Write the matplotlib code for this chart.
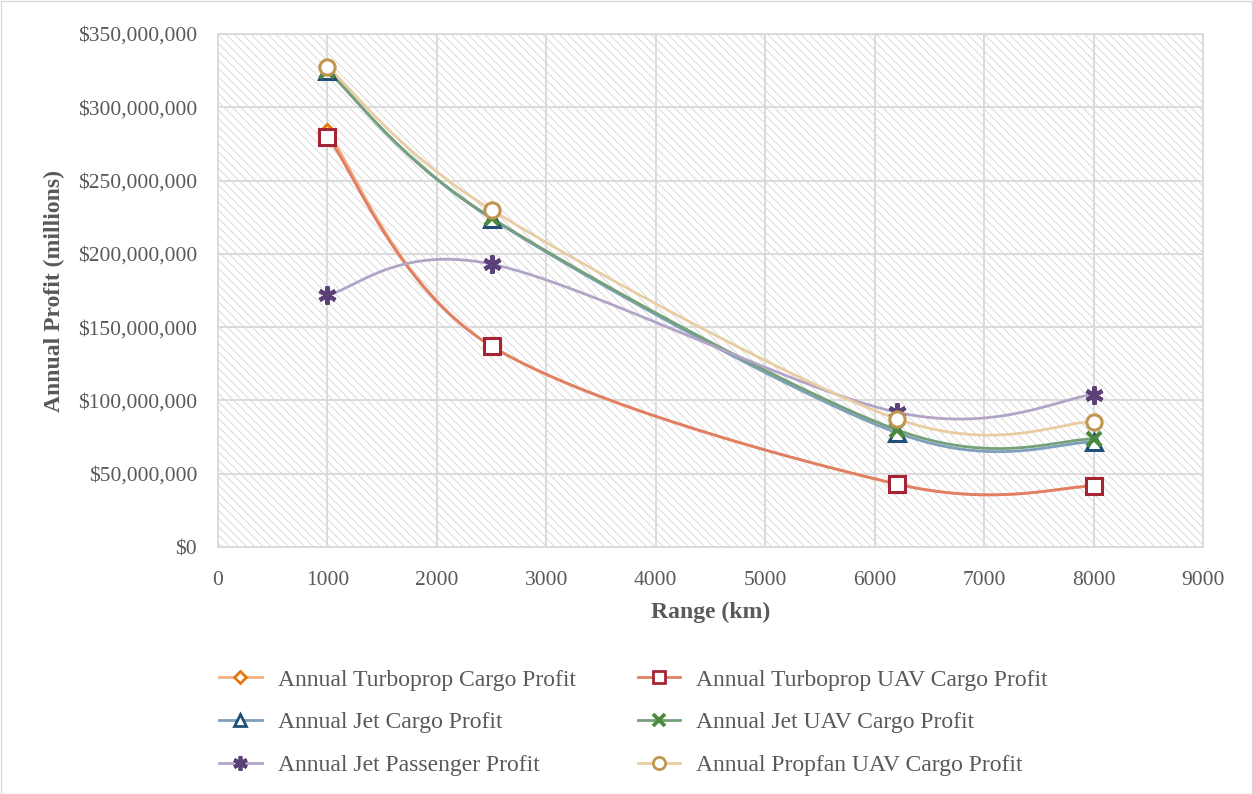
import numpy as np
import matplotlib
matplotlib.use("Agg")
import matplotlib.pyplot as plt
from matplotlib.patches import Rectangle
from matplotlib.ticker import FuncFormatter, MultipleLocator

plt.rcParams['font.family'] = ['Liberation Serif', 'DejaVu Serif']
plt.rcParams['hatch.linewidth'] = 0.6
plt.rcParams['hatch.color'] = '#d4d4d4'

range_km = [1000, 2500, 6200, 8000]

turboprop_cargo = [283e6, 137e6, 43e6, 41.5e6]
turboprop_uav_cargo = [280e6, 137e6, 43e6, 41.5e6]
jet_cargo = [325e6, 224e6, 78e6, 71.5e6]
jet_uav_cargo = [325e6, 224.5e6, 80e6, 73.5e6]
jet_passenger = [172e6, 193e6, 92e6, 104e6]
propfan_uav_cargo = [327.5e6, 230e6, 87.5e6, 85.5e6]

series = [
    ("Annual Turboprop Cargo Profit", turboprop_cargo, '#f4b183', '#e8780c', 'D', 8),
    ("Annual Turboprop UAV Cargo Profit", turboprop_uav_cargo, '#e07f63', '#a52433', 's', 11),
    ("Annual Jet Cargo Profit", jet_cargo, '#7fa0bd', '#1f4e79', '^', 11),
    ("Annual Jet UAV Cargo Profit", jet_uav_cargo, '#74a07a', '#4b8a3d', 'x', 10),
    ("Annual Jet Passenger Profit", jet_passenger, '#b2a4c6', '#5b4177', (6, 2, 0), 13),
    ("Annual Propfan UAV Cargo Profit", propfan_uav_cargo, '#e8cda3', '#c0954f', 'o', 11),
]

X_MAX, Y_MAX = 9000, 350e6
# pixel extents of the plot area, used to smooth in screen space
PX_W, PX_H = 985.0, 513.0


def smooth(xs, ys, n=60):
    """Bezier smoothing through the points, computed in screen proportions."""
    p = np.column_stack([np.asarray(xs, float) / X_MAX * PX_W,
                         np.asarray(ys, float) / Y_MAX * PX_H])
    out = []
    for i in range(len(p) - 1):
        p0 = p[i - 1] if i > 0 else p[i]
        p1, p2 = p[i], p[i + 1]
        p3 = p[i + 2] if i + 2 < len(p) else p[i + 1]
        c1 = p1 + (p2 - p0) / 6.0
        c2 = p2 - (p3 - p1) / 6.0
        t = np.linspace(0, 1, n)[:, None]
        seg = ((1 - t) ** 3) * p1 + 3 * ((1 - t) ** 2) * t * c1 + 3 * (1 - t) * t ** 2 * c2 + t ** 3 * p2
        out.append(seg if i == 0 else seg[1:])
    c = np.vstack(out)
    return c[:, 0] / PX_W * X_MAX, c[:, 1] / PX_H * Y_MAX


fig = plt.figure(figsize=(12.53, 7.94), dpi=100)
fig.patch.set_facecolor('white')
fig.patches.append(Rectangle((0.5 / 1253, 0.5 / 794), 1 - 1.5 / 1253, 1 - 1.5 / 794,
                             transform=fig.transFigure, fill=False,
                             edgecolor='#d9d9d9', linewidth=1.0))

ax = fig.add_axes([218 / 1253, 1 - 547 / 794, 985 / 1253, 513 / 794])
ax.set_xlim(0, X_MAX)
ax.set_ylim(0, Y_MAX)

# hatched plot-area background
ax.add_patch(Rectangle((0, 0), 1, 1, transform=ax.transAxes, facecolor='white',
                       edgecolor='#d4d4d4', hatch='\\\\\\\\', linewidth=0, zorder=0))

ax.xaxis.set_major_locator(MultipleLocator(1000))
ax.yaxis.set_major_locator(MultipleLocator(50e6))
ax.grid(True, color='#d9d9d9', linewidth=1.3, zorder=1)
ax.set_axisbelow(True)
for s in ax.spines.values():
    s.set_color('#d9d9d9')
    s.set_linewidth(1.3)
ax.tick_params(length=0, colors='#595959', labelsize=15.5)
ax.tick_params(axis='y', pad=15)
ax.tick_params(axis='x', pad=17)
ax.yaxis.set_major_formatter(FuncFormatter(lambda v, _: f"${v:,.0f}"))

handles = []
for label, ys, lc, mc, mk, ms in series:
    sx, sy = smooth(range_km, ys)
    ax.plot(sx, sy, color=lc, linewidth=2.0, zorder=3, solid_capstyle='round')
    filled = mk == 'x' or isinstance(mk, tuple)
    face = mc if filled else 'white'
    mew = 3.0 if filled else 2.2
    ax.plot(range_km, ys, linestyle='none', marker=mk, markersize=ms,
            markerfacecolor=face, markeredgecolor=mc, markeredgewidth=mew, zorder=4)
    h, = ax.plot([], [], color=lc, linewidth=2.0, marker=mk, markersize=ms * 0.8,
                 markerfacecolor=face, markeredgecolor=mc, markeredgewidth=mew * 0.9)
    handles.append(h)

ax.set_xlabel("Range (km)", fontsize=17, fontweight='bold', color='#595959', labelpad=9)
ax.set_ylabel("Annual Profit (millions)", fontsize=17, fontweight='bold', color='#595959', labelpad=9)

order = [0, 2, 4, 1, 3, 5]
leg = fig.legend([handles[i] for i in order], [series[i][0] for i in order],
                 loc='upper left', bbox_to_anchor=(219 / 1253, 1 - 669 / 794), ncol=2,
                 frameon=False, fontsize=17, handlelength=1.8, handletextpad=0.68,
                 columnspacing=2.63, labelspacing=0.9, borderpad=0, borderaxespad=0)
for t in leg.get_texts():
    t.set_color('#595959')

fig.savefig("out.png", dpi=100, facecolor='white')
